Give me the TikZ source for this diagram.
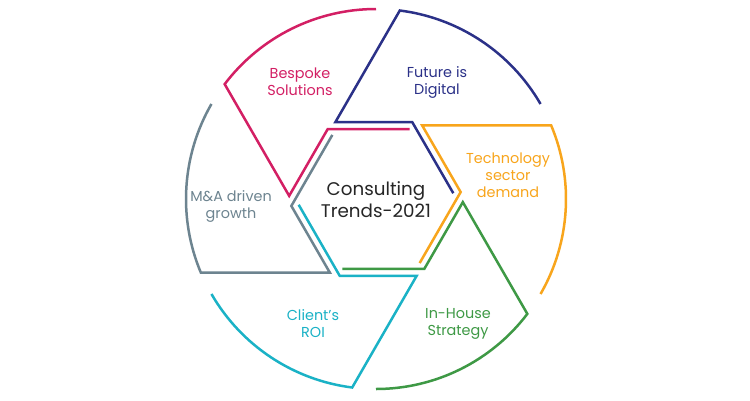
\documentclass[tikz,border=0pt]{standalone}
\usepackage{fontspec}
\setmainfont{Poppins}
\definecolor{cblue}{HTML}{2B3188}
\definecolor{cpink}{HTML}{D31F64}
\definecolor{cgray}{HTML}{6D8490}
\definecolor{ccyan}{HTML}{1AB2C6}
\definecolor{cgreen}{HTML}{3E9945}
\definecolor{corange}{HTML}{F8A51C}
\tikzset{
  seg/.style={line width=2.5pt, line join=miter},
  lbl/.style={align=center, font=\fontsize{14.4}{17}\selectfont, inner sep=0pt},
}
\newcommand{\segshape}[2]{%
  \draw[seg, #2, rotate around={#1:(C)}] ([shift={(30:190)}]C) arc[start angle=30, end angle=82.8, radius=190]
    -- ++(240:129) -- ++(0:77) -- ++(-60:82);}
\begin{document}
\begin{tikzpicture}[x=1pt,y=1pt]
\useasboundingbox (0,0) rectangle (750,-400);
\fill[white] (0,0) rectangle (750,-400);
\coordinate (C) at (376,-199);
\segshape{0}{cblue}
\segshape{60}{cpink}
\segshape{120}{cgray}
\segshape{180}{ccyan}
\segshape{240}{cgreen}
\segshape{300}{corange}
\node[lbl, text=cpink] (bes) at (300,-82) {Bespoke\\Solutions};
\node[lbl, text=cblue] (fut) at (437,-82) {Future is\\Digital};
\node[lbl, text=corange] (tec) at (508,-175) {Technology\\sector\\demand};
\node[lbl, text=cgreen] (inh) at (458,-324) {In-House\\Strategy};
\node[lbl, text=ccyan] (cli) at (313,-324) {Client’s\\ROI};
\node[lbl, text=cgray] (mna) at (231,-206) {M\&A driven\\growth};
\node[align=center, inner sep=0pt, font=\fontsize{18.3}{22}\selectfont, text=black!85] (ctr) at (376,-200) {Consulting\\Trends-2021};
\end{tikzpicture}
\end{document}
